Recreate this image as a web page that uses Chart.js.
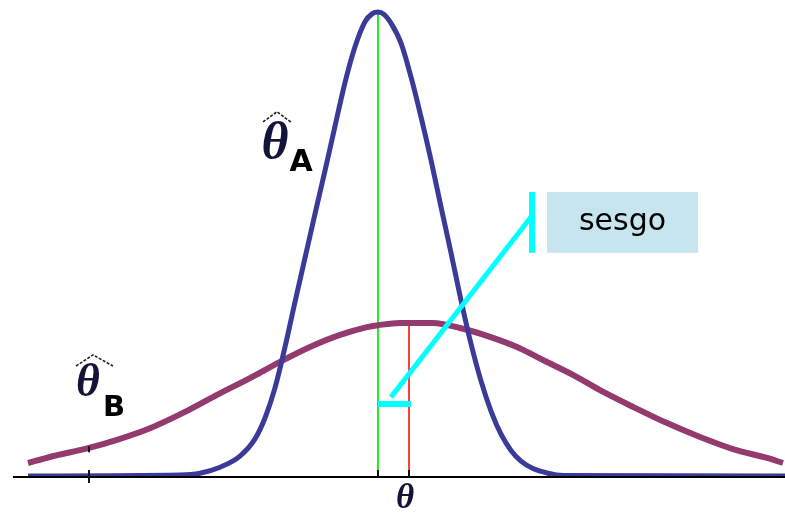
<!DOCTYPE html>
<html>
<head>
<meta charset="utf-8">
<script src="https://cdn.jsdelivr.net/npm/chart.js@4.4.1/dist/chart.umd.min.js"></script>
<style>
  html, body { margin: 0; padding: 0; background: #ffffff; }
  #wrap { width: 785px; height: 515px; }
</style>
</head>
<body>
<div id="wrap"><canvas id="c" width="785" height="515"></canvas></div>
<script>
// Sampling distribution of estimator A (narrow, centred on θ). x is measured from θ.
const estA_x = [-35, -19.8, -17.8, -15.8, -13.8, -12.3, -11.3, -10.3, -9.3, -8.3, -7.3, -6.3, -5.3, -4.3, -3.3, -2.3, -1.3, -0.6, 0,
                0.6, 1.3, 2.3, 3.3, 4.3, 5.3, 6.3, 7.3, 8.3, 9.3, 10.3, 11.3, 12.3, 13.3, 14.3, 15.5, 17.0, 18.5, 40.7];
const estA_y = [0, 0.2, 0.6, 1.9, 4.3, 8.0, 12.5, 19.0, 27.8, 37.5, 47.0, 56.5, 65.8, 75.4, 84.8, 92.5, 97.9, 99.6, 100,
                99.5, 97.6, 93.3, 86.0, 77.4, 68.1, 58.0, 48.1, 37.9, 28.5, 20.5, 14.0, 9.0, 5.5, 3.2, 1.6, 0.6, 0.1, 0];

// Sampling distribution of estimator B (wide, centred to the right of θ).
const estB_x = [-35, -32.8, -29, -26.1, -22.8, -19.5, -16.1, -12.8, -9.8, -6.8, -3.8, -1.1, 0, 2.2, 5.5,
                8.2, 11.2, 13.9, 16.5, 19.5, 22.2, 25.5, 28.9, 32.2, 35.5, 38.9, 40.5];
const estB_y = [2.8, 4.1, 6.0, 7.8, 10.3, 13.6, 17.5, 21.1, 24.6, 27.8, 30.4, 32.1, 32.5, 33.0, 33.0,
                31.9, 30.0, 27.8, 25.0, 21.8, 18.5, 14.9, 11.4, 8.4, 5.8, 3.9, 2.8];

const trueTheta = 0;      // parameter value θ
const meanB = 3.1;        // expected value of estimator B
const axisTicks = [-28.9, 0, 3.1];
const axisLabel = 'θ';
const biasLabel = 'sesgo';
const estNames = ['A', 'B'];

const toPoints = (xs, ys) => xs.map((x, i) => ({ x: x, y: ys[i] }));

// Placement of the callout and the estimator labels, in data units
const place = {
  biasLevel: 15.5,
  leader: { x0: 1.3, y0: 17.0, x1: 15.3, y1: 55.8 },
  bar: { x: 15.4, y0: 48.1, y1: 61.2 },
  box: { x0: 16.9, x1: 32.0, y0: 48.1, y1: 61.2 },
  labelA: { tx: -10.3, ty: 71.5, sx: -7.7, sy: 67.5, hat: [[-11.5, 76.3], [-10.1, 78.5], [-8.6, 76.1]] },
  labelB: { tx: -29.0, ty: 19.8, sx: -26.4, sy: 14.5, hat: [[-30.2, 23.7], [-28.5, 26.1], [-26.5, 23.7]] },
  axisText: { x: 2.7, y: -5.0 }
};

const overlay = {
  id: 'overlay',
  beforeDatasetsDraw(chart) {
    const ctx = chart.ctx, xs = chart.scales.x, ys = chart.scales.y;
    const base = ys.getPixelForValue(0);
    ctx.save();
    ctx.lineWidth = 2;
    // θ: vertical at the true value, up to the peak of A
    ctx.strokeStyle = '#22ee22';
    ctx.beginPath();
    ctx.moveTo(xs.getPixelForValue(trueTheta), base);
    ctx.lineTo(xs.getPixelForValue(trueTheta), ys.getPixelForValue(Math.max(...estA_y)));
    ctx.stroke();
    // E[B]: vertical up to the peak of B
    ctx.strokeStyle = '#ff3b3b';
    ctx.beginPath();
    ctx.moveTo(xs.getPixelForValue(meanB), base);
    ctx.lineTo(xs.getPixelForValue(meanB), ys.getPixelForValue(Math.max(...estB_y)));
    ctx.stroke();
    ctx.restore();
  },
  afterDatasetsDraw(chart) {
    const ctx = chart.ctx, xs = chart.scales.x, ys = chart.scales.y, area = chart.chartArea;
    const px = v => xs.getPixelForValue(v), py = v => ys.getPixelForValue(v);
    const base = py(0);
    ctx.save();

    // horizontal axis
    ctx.strokeStyle = '#000000';
    ctx.lineWidth = 2;
    ctx.beginPath();
    ctx.moveTo(area.left, base + 1);
    ctx.lineTo(area.right, base + 1);
    ctx.stroke();

    // tick marks
    ctx.lineWidth = 2;
    ctx.strokeStyle = '#111111';
    axisTicks.forEach((t, i) => {
      ctx.beginPath();
      ctx.moveTo(px(t), base - 6);
      ctx.lineTo(px(t), i === 0 ? base + 7 : base + 1);
      ctx.stroke();
    });
    // small mark on curve B above the first tick
    const bAt = estB_y[estB_x.indexOf(-29)];
    ctx.beginPath();
    ctx.moveTo(px(axisTicks[0]), py(bAt) - 2);
    ctx.lineTo(px(axisTicks[0]), py(bAt) + 4);
    ctx.stroke();

    // bias callout
    ctx.strokeStyle = '#00ffff';
    ctx.lineCap = 'butt';
    ctx.lineWidth = 6;
    ctx.beginPath();
    ctx.moveTo(px(trueTheta), py(place.biasLevel));
    ctx.lineTo(px(meanB) + 2, py(place.biasLevel));
    ctx.stroke();
    ctx.lineWidth = 5;
    ctx.beginPath();
    ctx.moveTo(px(place.leader.x0), py(place.leader.y0));
    ctx.lineTo(px(place.leader.x1), py(place.leader.y1));
    ctx.stroke();
    ctx.lineWidth = 6;
    ctx.beginPath();
    ctx.moveTo(px(place.bar.x), py(place.bar.y0));
    ctx.lineTo(px(place.bar.x), py(place.bar.y1));
    ctx.stroke();

    const bx0 = px(place.box.x0), bx1 = px(place.box.x1), by0 = py(place.box.y1), by1 = py(place.box.y0);
    ctx.fillStyle = '#c7e5ef';
    ctx.fillRect(bx0, by0, bx1 - bx0, by1 - by0);
    ctx.fillStyle = '#000000';
    ctx.font = '30px "DejaVu Sans", Verdana, sans-serif';
    ctx.textAlign = 'center';
    ctx.textBaseline = 'middle';
    ctx.fillText(biasLabel, (bx0 + bx1) / 2, (by0 + by1) / 2);

    // estimator labels: θ with a hat and a subscript
    const drawEst = (lab, name, size, subSize) => {
      ctx.fillStyle = '#14143a';
      ctx.font = 'italic bold ' + size + 'px "Liberation Serif", "DejaVu Serif", serif';
      ctx.textAlign = 'center';
      ctx.textBaseline = 'middle';
      ctx.fillText(axisLabel, px(lab.tx), py(lab.ty));
      ctx.fillStyle = '#000000';
      ctx.font = 'bold ' + subSize + 'px "DejaVu Sans", Verdana, sans-serif';
      ctx.fillText(name, px(lab.sx), py(lab.sy));
      ctx.strokeStyle = '#222222';
      ctx.lineWidth = 1.6;
      ctx.setLineDash([3, 1.5]);
      ctx.beginPath();
      lab.hat.forEach((p, i) => {
        if (i === 0) ctx.moveTo(px(p[0]), py(p[1]));
        else ctx.lineTo(px(p[0]), py(p[1]));
      });
      ctx.stroke();
      ctx.setLineDash([]);
    };
    drawEst(place.labelA, estNames[0], 52, 30);
    drawEst(place.labelB, estNames[1], 46, 29);

    // axis label θ
    ctx.fillStyle = '#14143a';
    ctx.font = 'italic bold 35px "Liberation Serif", "DejaVu Serif", serif';
    ctx.textAlign = 'center';
    ctx.textBaseline = 'middle';
    ctx.fillText(axisLabel, px(place.axisText.x), py(place.axisText.y));

    ctx.restore();
  }
};

new Chart(document.getElementById('c'), {
  type: 'line',
  data: {
    datasets: [
      {
        label: estNames[0],
        data: toPoints(estA_x, estA_y),
        borderColor: '#3a3a98',
        borderWidth: 5,
        pointRadius: 0,
        fill: false,
        cubicInterpolationMode: 'monotone'
      },
      {
        label: estNames[1],
        data: toPoints(estB_x, estB_y),
        borderColor: '#933a6e',
        borderWidth: 6,
        pointRadius: 0,
        fill: false,
        cubicInterpolationMode: 'monotone'
      }
    ]
  },
  options: {
    responsive: false,
    devicePixelRatio: 1,
    animation: false,
    layout: { padding: { left: 13, right: 0, top: 0, bottom: 39 } },
    plugins: { legend: { display: false }, tooltip: { enabled: false } },
    scales: {
      x: { type: 'linear', min: -36.5, max: 40.7, display: false },
      y: { type: 'linear', min: 0, max: 476 / 4.64, display: false }
    }
  },
  plugins: [overlay]
});
</script>
</body>
</html>
